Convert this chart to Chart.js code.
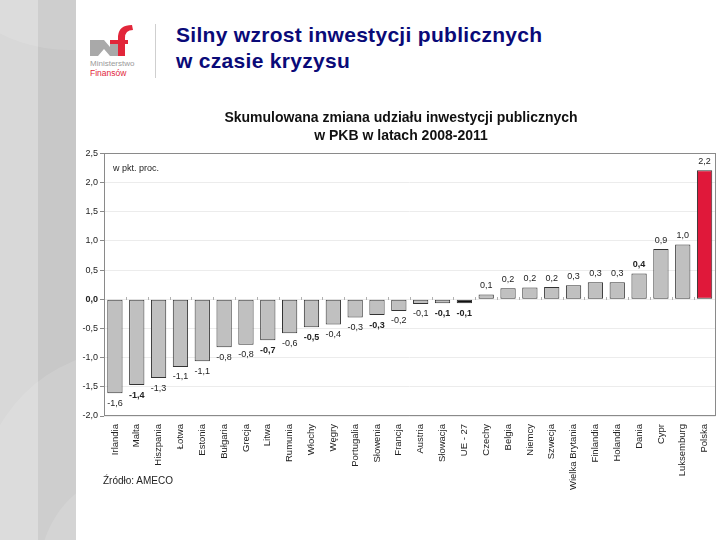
<!DOCTYPE html>
<html>
<head>
<meta charset="utf-8">
<script src="https://cdn.jsdelivr.net/npm/chart.js@4.4.0/dist/chart.umd.min.js"></script>
<style>
  body { margin: 0; width: 720px; height: 540px; background: #fff; position: relative; overflow: hidden;
         font-family: "Liberation Sans", Arial, sans-serif; }
  #strip { position: absolute; left: 0; top: 0; width: 76px; height: 540px;
           background: linear-gradient(to right, #d8d8d8 0, #d8d8d8 38px, #c8c8c8 38px, #c8c8c8 76px); overflow: hidden; }
  #strip .arc { position: absolute; border-radius: 50%; background: rgba(255,255,255,0.12); }
  #title { position: absolute; left: 176px; top: 22px; font-size: 21px; line-height: 26px; color: #0a0a78;
           font-weight: bold; letter-spacing: 0.3px; }
  #unit { position: absolute; left: 113px; top: 163px; font-size: 9px; color: #222; }
  #source { position: absolute; left: 103px; top: 475px; font-size: 10px; color: #222; }
  #wrap { position: absolute; left: 76px; top: 100px; width: 648px; height: 395px; }
</style>
</head>
<body>
<div id="strip">
  <div class="arc" style="left:-60px; top:-160px; width:260px; height:210px;"></div>
  <div class="arc" style="left:-20px; top:350px; width:300px; height:300px;"></div>
  <div class="arc" style="left:40px; top:470px; width:200px; height:200px;"></div>
</div>
<svg style="position:absolute;left:0;top:0" width="170" height="85">
  <polygon points="90,40 104,40 110,47 110,40 118,40 118,56 110,56 104,49 98,56 90,56" fill="#a9a9a9"/>
  <path d="M118,56 L118,36 Q119,25 132,25 L133,30 Q125,30 125,38 L125,56 Z" fill="#e2263a"/>
  <rect x="110" y="40" width="18" height="4" fill="#e2263a"/>
  <text x="90" y="66" font-size="8" fill="#9a9a9a" font-family="Liberation Sans, Arial">Ministerstwo</text>
  <text x="90" y="76" font-size="8.5" fill="#e2263a" font-family="Liberation Sans, Arial">Finansów</text>
  <line x1="155.5" y1="24" x2="155.5" y2="78" stroke="#cfcfcf" stroke-width="1"/>
</svg>
<div id="title">Silny wzrost inwestycji publicznych<br>w czasie kryzysu</div>
<div id="wrap"><canvas id="myChart" width="648" height="395"></canvas></div>
<div id="unit">w pkt. proc.</div>
<div id="source">Źródło: AMECO</div>
<script>
const countries = ["Irlandia", "Malta", "Hiszpania", "Łotwa", "Estonia", "Bułgaria", "Grecja", "Litwa",
  "Rumunia", "Włochy", "Węgry", "Portugalia", "Słowenia", "Francja", "Austria", "Słowacja", "UE - 27",
  "Czechy", "Belgia", "Niemcy", "Szwecja", "Wielka Brytania", "Finlandia", "Holandia", "Dania", "Cypr",
  "Luksemburg", "Polska"];
const values = [-1.61, -1.47, -1.35, -1.16, -1.06, -0.82, -0.78, -0.70, -0.58, -0.48, -0.43, -0.31, -0.27,
  -0.20, -0.08, -0.07, -0.07, 0.08, 0.19, 0.20, 0.21, 0.24, 0.29, 0.29, 0.44, 0.86, 0.94, 2.21];
const valueLabels = ["-1,6", "-1,4", "-1,3", "-1,1", "-1,1", "-0,8", "-0,8", "-0,7", "-0,6", "-0,5", "-0,4",
  "-0,3", "-0,3", "-0,2", "-0,1", "-0,1", "-0,1", "0,1", "0,2", "0,2", "0,2", "0,3", "0,3", "0,3", "0,4",
  "0,9", "1,0", "2,2"];
const boldLabels = ["Malta", "Litwa", "Włochy", "Słowenia", "Słowacja", "UE - 27", "Dania"];
const chartTitle = ["Skumulowana zmiana udziału inwestycji publicznych", "w PKB w latach 2008-2011"];

const FONT = "'Liberation Sans', Arial, sans-serif";

function barColor(ctx) {
  const name = countries[ctx.dataIndex];
  if (name === "Polska") return "#e0183a";
  if (name === "UE - 27") return "#111111";
  return "#c0c0c0";
}

// ramka pola wykresu + kreski na linii zera + etykiety wartosci
const frame = {
  id: "frame",
  beforeDatasetsDraw(chart) {
    const a = chart.chartArea, c = chart.ctx;
    const x = chart.scales.x, y = chart.scales.y;
    c.save();
    c.strokeStyle = "#8a8a8a";
    c.lineWidth = 1;
    c.strokeRect(Math.round(a.left) + 0.5, Math.round(a.top) + 0.5,
      Math.round(a.right - a.left) - 1, Math.round(a.bottom - a.top) - 1);
    const y0 = Math.round(y.getPixelForValue(0));
    c.strokeStyle = "#b0b0b0";
    for (let i = 1; i < countries.length; i++) {
      const xb = Math.round((x.getPixelForValue(i - 1) + x.getPixelForValue(i)) / 2) + 0.5;
      c.beginPath(); c.moveTo(xb, y0 - 2); c.lineTo(xb, y0 + 1); c.stroke();
    }
    c.restore();
  },
  afterDatasetsDraw(chart) {
    const c = chart.ctx;
    const meta = chart.getDatasetMeta(0);
    c.save();
    c.fillStyle = "#222";
    c.textAlign = "center";
    c.textBaseline = "middle";
    meta.data.forEach((bar, i) => {
      const bold = boldLabels.includes(countries[i]);
      c.font = (bold ? "bold " : "") + "9px " + FONT;
      const yy = values[i] < 0 ? bar.y + 10 : bar.y - 9;
      c.fillText(valueLabels[i], bar.x, yy);
    });
    c.restore();
  }
};

new Chart(document.getElementById("myChart"), {
  type: "bar",
  data: {
    labels: countries,
    datasets: [{
      data: values,
      backgroundColor: barColor,
      borderColor: "#333333",
      borderWidth: 1,
      borderSkipped: false,
      barPercentage: 0.7,
      categoryPercentage: 1.0
    }]
  },
  options: {
    responsive: false,
    animation: false,
    devicePixelRatio: 1,
    layout: { padding: { left: 2, right: 0, top: 0, bottom: 0 } },
    plugins: {
      legend: { display: false },
      tooltip: { enabled: false },
      title: {
        display: true,
        text: chartTitle,
        color: "#111",
        font: { family: FONT, size: 14, weight: "bold", lineHeight: 1.3 },
        padding: { top: 9, bottom: 8 }
      }
    },
    scales: {
      x: {
        offset: true,
        grid: { display: false, drawTicks: false },
        border: { display: false },
        ticks: { color: "#222", font: { family: FONT, size: 9.5 }, maxRotation: 90, minRotation: 90,
                 autoSkip: false, padding: 8 },
        afterFit(s) { s.height = 79; }
      },
      y: {
        min: -2, max: 2.5,
        grid: { color: "#ececec", tickColor: "#8a8a8a", tickLength: 4, drawOnChartArea: true },
        border: { display: false },
        ticks: {
          stepSize: 0.5, color: "#222", padding: 2,
          font: ctx => ({ family: FONT, size: 9, weight: ctx.tick && ctx.tick.value === 0 ? "bold" : "normal" }),
          callback: v => v.toFixed(1).replace(".", ",")
        },
        afterFit(s) { s.width = 26; }
      }
    }
  },
  plugins: [frame]
});
</script>
</body>
</html>
